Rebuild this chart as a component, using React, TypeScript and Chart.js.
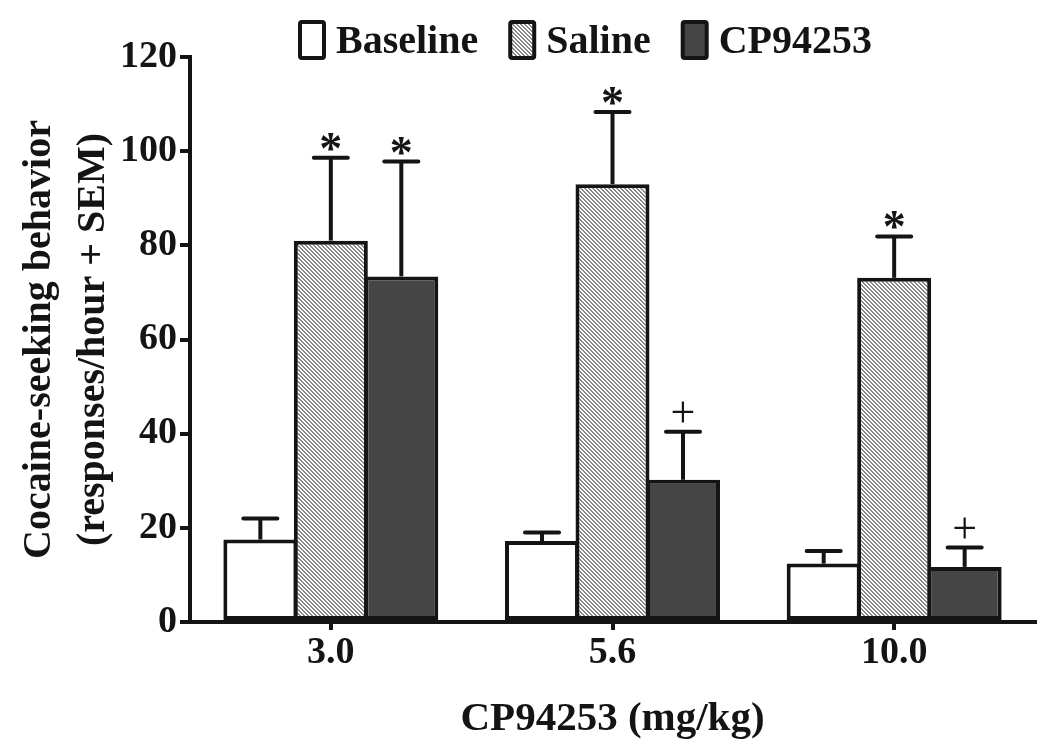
import React, { useEffect, useRef } from 'react';
import { Chart, registerables } from 'chart.js';

Chart.register(...registerables);

// ---------- data ----------
const categories = ['3.0', '5.6', '10.0'];
const seriesNames = ['Baseline', 'Saline', 'CP94253'];
const baselineValues = [17.5, 17.2, 12.4];
const baselineSem = [4.5, 1.8, 2.7];
const salineValues = [81.0, 93.0, 73.1];
const salineSem = [17.6, 15.3, 8.8];
const cpValues = [73.4, 30.2, 11.7];
const cpSem = [24.4, 10.2, 4.1];
const baselineMarks = ['', '', ''];
const salineMarks = ['*', '*', '*'];
const cpMarks = ['*', '+', '+'];
const yMin = 0;
const yMax = 120;
const yStep = 20;
const xTitle = 'CP94253 (mg/kg)';
const yTitle = ['Cocaine-seeking behavior', '(responses/hour + SEM)'];

const FONT = '"Liberation Serif", "Times New Roman", serif';
const INK = '#141414';

function makeHatch(): CanvasPattern | string {
  const c = document.createElement('canvas');
  c.width = 4;
  c.height = 4;
  const ctx = c.getContext('2d');
  if (!ctx) return '#c4c4c4';
  ctx.fillStyle = '#ffffff';
  ctx.fillRect(0, 0, 4, 4);
  ctx.fillStyle = '#888888';
  for (let y = 0; y < 4; y++) {
    for (let x = 0; x < 4; x++) {
      if ((((x - y) % 4) + 4) % 4 < 2) ctx.fillRect(x, y, 1, 1);
    }
  }
  return ctx.createPattern(c, 'repeat') || '#c4c4c4';
}

const errorBarPlugin = {
  id: 'errorBars',
  afterDatasetsDraw(chart: any) {
    const ctx = chart.ctx as CanvasRenderingContext2D;
    const yScale = chart.scales.y;
    chart.data.datasets.forEach((ds: any, di: number) => {
      const meta = chart.getDatasetMeta(di);
      meta.data.forEach((bar: any, i: number) => {
        const v = ds.data[i];
        const e = ds.sem[i];
        const yBar = yScale.getPixelForValue(v);
        const yTop = yScale.getPixelForValue(v + e);
        ctx.save();
        ctx.strokeStyle = INK;
        ctx.lineWidth = 4;
        ctx.lineCap = 'butt';
        ctx.beginPath();
        ctx.moveTo(bar.x, yBar);
        ctx.lineTo(bar.x, yTop);
        ctx.stroke();
        ctx.lineCap = 'round';
        ctx.beginPath();
        ctx.moveTo(bar.x - 17, yTop);
        ctx.lineTo(bar.x + 17, yTop);
        ctx.stroke();
        const mark = ds.marks[i];
        if (mark) {
          const isStar = mark === '*';
          ctx.font = isStar ? `bold 46px ${FONT}` : `normal 44px ${FONT}`;
          ctx.fillStyle = INK;
          ctx.textAlign = 'center';
          ctx.textBaseline = 'alphabetic';
          const m = ctx.measureText(mark);
          const centerY = yTop - (isStar ? 16 : 20);
          const baseY = centerY + (m.actualBoundingBoxAscent - m.actualBoundingBoxDescent) / 2;
          ctx.fillText(mark, bar.x, baseY);
        }
        ctx.restore();
      });
    });
  },
};

const legendPlugin = {
  id: 'boxLegend',
  afterDraw(chart: any) {
    const ctx = chart.ctx as CanvasRenderingContext2D;
    ctx.save();
    ctx.font = `bold 40px ${FONT}`;
    let x = 298;
    const top = 20;
    const bw = 28;
    const bh = 40;
    chart.data.datasets.forEach((ds: any) => {
      ctx.fillStyle = ds.backgroundColor;
      ctx.strokeStyle = INK;
      ctx.lineWidth = 4;
      ctx.beginPath();
      (ctx as any).roundRect
        ? (ctx as any).roundRect(x + 2, top + 2, bw - 4, bh - 4, 2)
        : ctx.rect(x + 2, top + 2, bw - 4, bh - 4);
      ctx.fill();
      ctx.stroke();
      ctx.fillStyle = INK;
      ctx.textAlign = 'left';
      ctx.textBaseline = 'alphabetic';
      ctx.fillText(ds.label, x + bw + 10, 53);
      x += bw + 10 + ctx.measureText(ds.label).width + 30;
    });
    ctx.restore();
  },
};

export default function App() {
  const canvasRef = useRef<HTMLCanvasElement | null>(null);

  useEffect(() => {
    const canvas = canvasRef.current;
    if (!canvas) return;
    const hatch = makeHatch();
    const common = {
      borderColor: INK,
      borderWidth: 4,
      borderSkipped: false,
      categoryPercentage: 0.7507,
      barPercentage: 1.05,
    };
    const chart = new Chart(canvas, {
      type: 'bar',
      data: {
        labels: categories,
        datasets: [
          { ...common, label: seriesNames[0], data: baselineValues, sem: baselineSem, marks: baselineMarks, backgroundColor: '#ffffff' } as any,
          { ...common, label: seriesNames[1], data: salineValues, sem: salineSem, marks: salineMarks, backgroundColor: hatch } as any,
          { ...common, label: seriesNames[2], data: cpValues, sem: cpSem, marks: cpMarks, backgroundColor: '#454545' } as any,
        ],
      },
      options: {
        responsive: false,
        animation: false,
        devicePixelRatio: 1,
        layout: { padding: { top: 57, right: 15, bottom: 0, left: 0 } },
        plugins: {
          legend: { display: false },
          tooltip: { enabled: false },
        },
        scales: {
          x: {
            type: 'category',
            offset: true,
            afterFit: (scale: any) => {
              scale.height = 131;
            },
            grid: {
              display: true,
              drawOnChartArea: false,
              drawTicks: true,
              offset: false,
              tickLength: 8,
              lineWidth: 4,
              color: INK,
            },
            border: { display: true, color: INK, width: 4 },
            ticks: {
              color: INK,
              padding: 0,
              font: { family: FONT, size: 38, weight: 'bold' },
            },
            title: {
              display: true,
              text: xTitle,
              color: INK,
              padding: { top: 0, bottom: 9 },
              font: { family: FONT, size: 41, weight: 'bold', lineHeight: 1.2 },
            },
          },
          y: {
            min: yMin,
            max: yMax,
            afterFit: (scale: any) => {
              scale.width = 190;
            },
            grid: {
              display: true,
              drawOnChartArea: false,
              drawTicks: true,
              tickLength: 10,
              lineWidth: 4,
              color: INK,
            },
            border: { display: true, color: INK, width: 4 },
            ticks: {
              stepSize: yStep,
              color: INK,
              padding: 3,
              font: { family: FONT, size: 38, weight: 'bold' },
            },
            title: {
              display: true,
              text: yTitle,
              color: INK,
              padding: { top: 13, bottom: 0 },
              font: { family: FONT, size: 40, weight: 'bold', lineHeight: 1.35 },
            },
          },
        },
      },
      plugins: [errorBarPlugin, legendPlugin],
    } as any);
    return () => {
      chart.destroy();
    };
  }, []);

  return (
    <div style={{ position: 'absolute', left: 0, top: 0, width: 1050, height: 753, background: '#ffffff' }}>
      <canvas ref={canvasRef} width={1050} height={753} style={{ display: 'block' }} />
    </div>
  );
}
